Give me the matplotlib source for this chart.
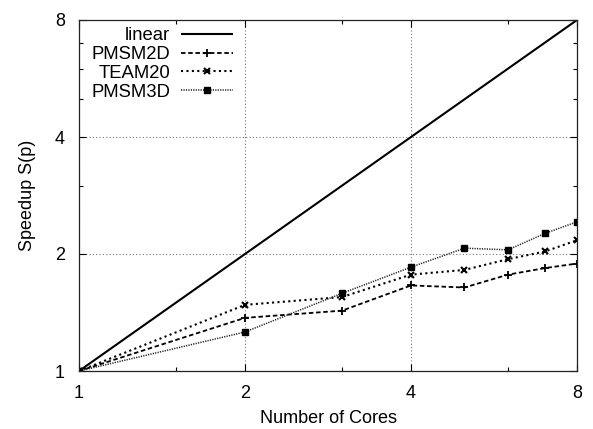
import matplotlib
matplotlib.use("Agg")
import matplotlib.pyplot as plt
from matplotlib.ticker import FixedLocator, FixedFormatter, NullFormatter

plt.rcParams['font.family'] = ['Liberation Sans', 'DejaVu Sans']

cores = [1, 2, 3, 4, 5, 6, 7, 8]
linear = [1, 2, 3, 4, 5, 6, 7, 8]
pmsm2d = [1.0, 1.37, 1.43, 1.66, 1.64, 1.77, 1.84, 1.89]
team20 = [1.0, 1.48, 1.55, 1.77, 1.82, 1.94, 2.03, 2.17]
pmsm3d = [1.0, 1.26, 1.585, 1.85, 2.07, 2.05, 2.26, 2.42]

major_ticks = [1, 2, 4, 8]
major_labels = ["1", "2", "4", "8"]
x_minor = [1.5, 3, 6]
y_minor = [3, 5, 6, 7]

fig = plt.figure(figsize=(5.93, 4.29), dpi=100)
ax = fig.add_axes([79/593, 1 - 371/429, (577-79)/593, (371-20)/429])

ax.set_xscale('log', base=2)
ax.set_yscale('log', base=2)

ax.plot(cores, linear, color='black', lw=1.5, solid_capstyle='butt', label='linear')
ax.plot(cores, pmsm2d, color='black', lw=1.3, linestyle=(0, (2.5, 1.5)),
        marker='+', markersize=6, markeredgewidth=1.3, label='PMSM2D')
ax.plot(cores, team20, color='black', lw=1.5, linestyle=(0, (1.0, 1.6)),
        marker='x', markersize=4.5, markeredgewidth=1.5, label='TEAM20')
ax.plot(cores, pmsm3d, color='#222222', lw=1.1, linestyle=(0, (0.8, 0.8)),
        marker='s', markersize=4.5, markerfacecolor='black', markeredgecolor='black',
        label='PMSM3D')

ax.set_xlim(1, 8)
ax.set_ylim(1, 8)

for axis, minor in ((ax.xaxis, x_minor), (ax.yaxis, y_minor)):
    axis.set_major_locator(FixedLocator(major_ticks))
    axis.set_major_formatter(FixedFormatter(major_labels))
    axis.set_minor_locator(FixedLocator(minor))
    axis.set_minor_formatter(NullFormatter())

ax.tick_params(which='both', direction='in', top=True, right=True, labelsize=13,
               color='black')
ax.tick_params(which='major', length=5, width=0.8, pad=10)
ax.tick_params(which='minor', length=3, width=0.8)

ax.grid(True, which='major', linestyle=(0, (1, 2)), color='#777777', lw=0.8)

for s in ax.spines.values():
    s.set_linewidth(0.9)
    s.set_color('#222222')

ax.set_xlabel('Number of Cores', fontsize=13, labelpad=6)
ax.set_ylabel('Speedup S(p)', fontsize=13, labelpad=14)

leg = ax.legend(loc='upper left', bbox_to_anchor=(0.006, 1.006), frameon=False,
                markerfirst=False, fontsize=13.3, handlelength=2.8,
                handletextpad=0.6, labelspacing=0.1, borderaxespad=0.2,
                borderpad=0.3)

fig.savefig('out.png', dpi=100)
